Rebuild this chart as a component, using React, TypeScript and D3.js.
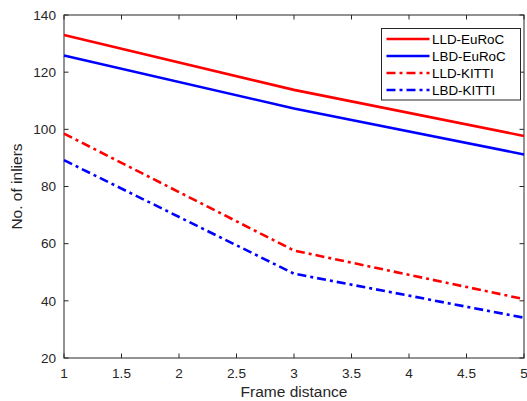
import React, { useRef, useEffect } from 'react';
import * as d3 from 'd3';

const frameDist = [1, 3, 5];
const lldEuroc = [133, 113.8, 97.7];
const lbdEuroc = [125.8, 107.3, 91.2];
const lldKitti = [98.5, 57.6, 40.6];
const lbdKitti = [89.2, 49.5, 34.1];

const seriesNames = ['LLD-EuRoC', 'LBD-EuRoC', 'LLD-KITTI', 'LBD-KITTI'];
const xTicks = [1, 1.5, 2, 2.5, 3, 3.5, 4, 4.5, 5];
const yTicks = [20, 40, 60, 80, 100, 120, 140];

const App = () => {
    const svgRef = useRef<SVGSVGElement>(null);

    const width = 527;
    const height = 401;
    const margin = { top: 15, right: 3, bottom: 43, left: 64 };

    useEffect(() => {
        const svg = d3.select(svgRef.current);
        svg.selectAll('*').remove();

        const w = width - margin.left - margin.right;
        const h = height - margin.top - margin.bottom;

        const x = d3.scaleLinear().domain([1, 5]).range([0, w]);
        const y = d3.scaleLinear().domain([20, 140]).range([h, 0]);

        const g = svg.append('g')
            .attr('transform', `translate(${margin.left},${margin.top})`);

        const axisColor = '#262626';
        const font = 'Liberation Sans, Arial, Helvetica, sans-serif';

        // box
        g.append('rect')
            .attr('x', 0).attr('y', 0)
            .attr('width', w).attr('height', h)
            .attr('fill', 'none')
            .attr('stroke', axisColor)
            .attr('stroke-width', 1);

        const tl = 4.5;
        xTicks.forEach(t => {
            g.append('line').attr('x1', x(t)).attr('x2', x(t)).attr('y1', h).attr('y2', h - tl)
                .attr('stroke', axisColor);
            g.append('line').attr('x1', x(t)).attr('x2', x(t)).attr('y1', 0).attr('y2', tl)
                .attr('stroke', axisColor);
            g.append('text')
                .attr('x', x(t)).attr('y', h + 20)
                .attr('text-anchor', 'middle')
                .attr('font-family', font).attr('font-size', 13.6)
                .attr('fill', axisColor)
                .text(String(t));
        });
        yTicks.forEach(t => {
            g.append('line').attr('x1', 0).attr('x2', tl).attr('y1', y(t)).attr('y2', y(t))
                .attr('stroke', axisColor);
            g.append('line').attr('x1', w).attr('x2', w - tl).attr('y1', y(t)).attr('y2', y(t))
                .attr('stroke', axisColor);
            g.append('text')
                .attr('x', -8).attr('y', y(t) + 4.8)
                .attr('text-anchor', 'end')
                .attr('font-family', font).attr('font-size', 13.6)
                .attr('fill', axisColor)
                .text(String(t));
        });

        g.append('text')
            .attr('x', w / 2).attr('y', h + 39)
            .attr('text-anchor', 'middle')
            .attr('font-family', font).attr('font-size', 15.5)
            .attr('fill', axisColor)
            .text('Frame distance');

        g.append('text')
            .attr('transform', `translate(${-42},${h / 2}) rotate(-90)`)
            .attr('text-anchor', 'middle')
            .attr('font-family', font).attr('font-size', 15.5)
            .attr('fill', axisColor)
            .text('No. of inliers');

        const series = [
            { name: seriesNames[0], values: lldEuroc, color: '#ff0000', dash: null },
            { name: seriesNames[1], values: lbdEuroc, color: '#0000ff', dash: null },
            { name: seriesNames[2], values: lldKitti, color: '#ff0000', dash: '9 4 3 4' },
            { name: seriesNames[3], values: lbdKitti, color: '#0000ff', dash: '9 4 3 4' },
        ];

        const line = d3.line<number>()
            .x((d, i) => x(frameDist[i]))
            .y(d => y(d));

        series.forEach(s => {
            g.append('path')
                .datum(s.values)
                .attr('d', line)
                .attr('fill', 'none')
                .attr('stroke', s.color)
                .attr('stroke-width', 2.6)
                .attr('stroke-dasharray', s.dash)
                .attr('stroke-linejoin', 'round');
        });

        // legend
        const lg = svg.append('g').attr('transform', 'translate(381.5,28.5)');
        lg.append('rect')
            .attr('width', 139).attr('height', 71.5)
            .attr('fill', 'white')
            .attr('stroke', axisColor)
            .attr('stroke-width', 1);
        series.forEach((s, i) => {
            const cy = 10.5 + i * 17;
            lg.append('line')
                .attr('x1', 5).attr('x2', 48)
                .attr('y1', cy).attr('y2', cy)
                .attr('stroke', s.color)
                .attr('stroke-width', 2.6)
                .attr('stroke-dasharray', s.dash);
            lg.append('text')
                .attr('x', 50.5).attr('y', cy + 4.8)
                .attr('font-family', font).attr('font-size', 13.4)
                .attr('fill', '#000')
                .text(s.name);
        });
    }, []);

    return (
        <svg ref={svgRef} width={width} height={height}
            style={{ position: 'absolute', left: 0, top: 0, background: 'white' }} />
    );
};

export default App;
